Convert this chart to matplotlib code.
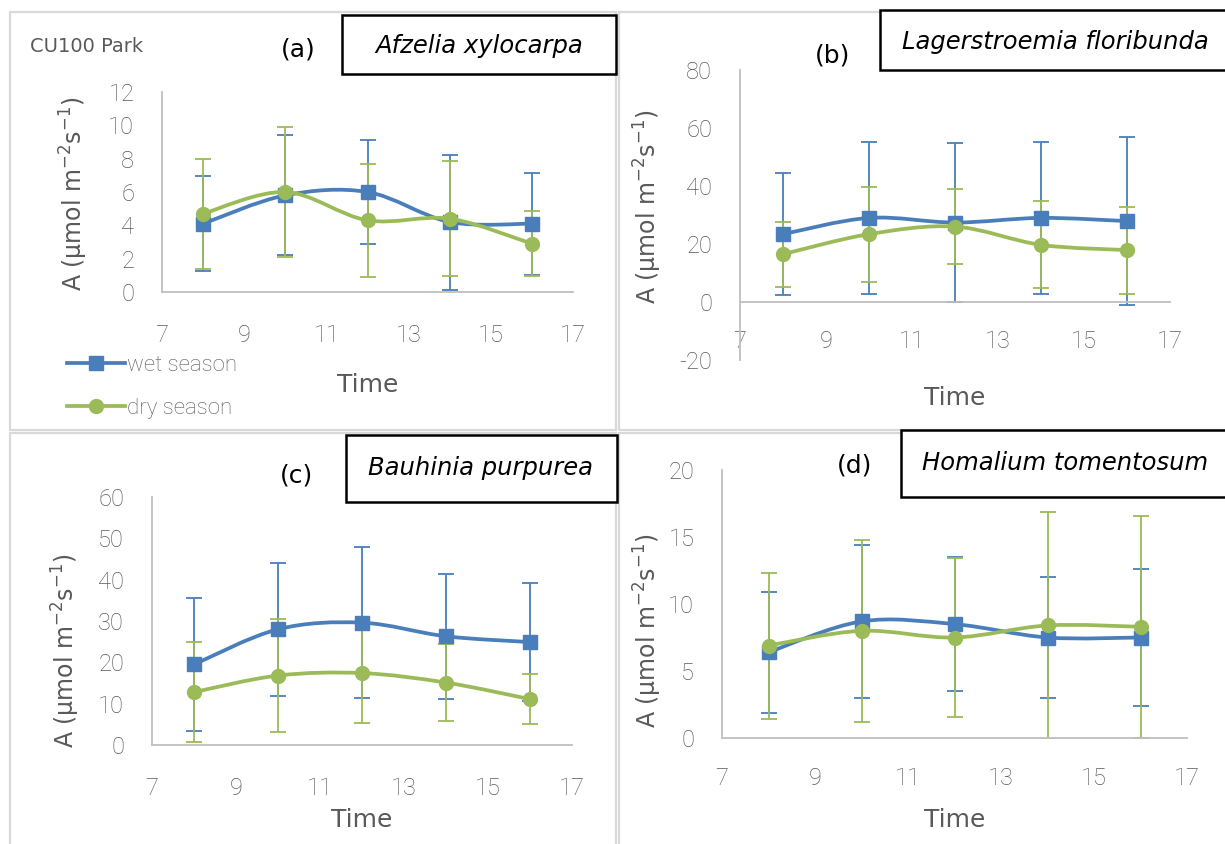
import matplotlib
matplotlib.use('Agg')
import matplotlib.pyplot as plt
from matplotlib.path import Path
from matplotlib.patches import PathPatch, Rectangle
from matplotlib.lines import Line2D

W, H = 1225, 844

# ---------------- data ----------------
time = [8, 10, 12, 14, 16]
x_ticks = [7, 9, 11, 13, 15, 17]

a_wet = [4.1, 5.8, 6.0, 4.2, 4.1]
a_wet_err = [2.85, 3.6, 3.1, 4.05, 3.05]
a_dry = [4.7, 6.0, 4.3, 4.4, 2.9]
a_dry_err = [3.3, 3.9, 3.4, 3.45, 1.95]

b_wet = [23.4, 29.0, 27.4, 29.0, 27.9]
b_wet_err = [21.0, 26.3, 27.5, 26.3, 29.0]
b_dry = [16.5, 23.4, 26.0, 19.7, 17.9]
b_dry_err = [11.2, 16.4, 12.8, 15.0, 15.0]

c_wet = [19.5, 28.0, 29.6, 26.3, 24.9]
c_wet_err = [16.0, 16.1, 18.2, 15.1, 14.3]
c_dry = [12.8, 16.8, 17.4, 15.1, 11.1]
c_dry_err = [12.0, 13.6, 12.0, 9.4, 6.0]

d_wet = [6.4, 8.7, 8.5, 7.5, 7.5]
d_wet_err = [4.5, 5.7, 5.0, 4.5, 5.1]
d_dry = [6.9, 8.0, 7.5, 8.4, 8.3]
d_dry_err = [5.45, 6.8, 5.9, 8.45, 8.3]

panel_tags = ['(a)', '(b)', '(c)', '(d)']
species = ['Afzelia xylocarpa', 'Lagerstroemia floribunda',
           'Bauhinia purpurea', 'Homalium tomentosum']
y_ticks_list = [[0, 2, 4, 6, 8, 10, 12],
                [-20, 0, 20, 40, 60, 80],
                [0, 10, 20, 30, 40, 50, 60],
                [0, 5, 10, 15, 20]]
series_names = ['wet season', 'dry season']
site_label = 'CU100 Park'

BLUE = '#4A7EBB'
GREEN = '#9BBB59'
TICKC = '#595959'
AXC = '#BFBFBF'

NUMFONT = ['Roboto', 'Open Sans', 'DejaVu Sans']
LBLFONT = ['DejaVu Sans']

fig = plt.figure(figsize=(W / 100, H / 100), dpi=100)
fig.patch.set_facecolor('white')


def fig_rect(x0, y0, x1, y1):
    """pixel box (top-left origin) -> figure fraction [l, b, w, h]"""
    return [x0 / W, 1 - y1 / H, (x1 - x0) / W, (y1 - y0) / H]


def smooth_path(xs, ys):
    pts = list(zip(xs, ys))
    n = len(pts)
    verts = [pts[0]]
    codes = [Path.MOVETO]
    for i in range(n - 1):
        p0 = pts[i - 1] if i > 0 else pts[i]
        p1 = pts[i]
        p2 = pts[i + 1]
        p3 = pts[i + 2] if i + 2 < n else pts[i + 1]
        c1 = (p1[0] + (p2[0] - p0[0]) / 6, p1[1] + (p2[1] - p0[1]) / 6)
        c2 = (p2[0] - (p3[0] - p1[0]) / 6, p2[1] - (p3[1] - p1[1]) / 6)
        verts += [c1, c2, p2]
        codes += [Path.CURVE4] * 3
    return Path(verts, codes)


# panel borders
for (x0, y0, x1, y1) in [(10, 12, 616, 430), (619, 12, 1240, 430),
                         (10, 433, 616, 860), (619, 433, 1240, 860)]:
    r = fig_rect(x0, y0, x1, y1)
    fig.add_artist(Rectangle((r[0], r[1]), r[2], r[3], transform=fig.transFigure,
                             fill=False, ec='#D9D9D9', lw=1.6, zorder=-5))

data = [(a_wet, a_wet_err, a_dry, a_dry_err),
        (b_wet, b_wet_err, b_dry, b_dry_err),
        (c_wet, c_wet_err, c_dry, c_dry_err),
        (d_wet, d_wet_err, d_dry, d_dry_err)]

# layout (pixels)
ax_boxes = [(162, 92, 573, 292), (740, 70, 1170, 360),
            (152, 497, 572, 745), (722, 470, 1187, 738)]
xpads = [23, 20, 23, 21]
ylab_coords = [(-0.215, 0.49), (-0.214, 0.53), (-0.205, 0.38), (-0.159, 0.40)]
time_coords = [(0.5, -0.465), (0.5, -0.131), (0.5, -0.302), (0.5, -0.306)]
tag_pos = [(298, 50), (833, 55), (297, 475), (855, 465)]
title_boxes = [(342, 15, 616, 74), (880, 10, 1240, 70),
               (346, 435, 617, 502), (901, 430, 1240, 497)]
title_centers = [(479, 46), (1055, 42), (481, 468), (1065, 463)]

axes = []
for k in range(4):
    x0, y0, x1, y1 = ax_boxes[k]
    ax = fig.add_axes(fig_rect(x0, y0, x1, y1))
    axes.append(ax)
    wet, wet_err, dry, dry_err = data[k]
    yt = y_ticks_list[k]

    for s in ['top', 'right']:
        ax.spines[s].set_visible(False)
    for s in ['left', 'bottom']:
        ax.spines[s].set_color(AXC)
        ax.spines[s].set_linewidth(1.3)
    if yt[0] < 0:
        ax.spines['bottom'].set_position(('data', 0))

    ax.errorbar(time, wet, yerr=wet_err, fmt='none', ecolor=BLUE, elinewidth=1.3,
                capsize=5.5, capthick=1.3, zorder=2)
    ax.errorbar(time, dry, yerr=dry_err, fmt='none', ecolor=GREEN, elinewidth=1.3,
                capsize=5.5, capthick=1.3, zorder=2)
    ax.add_patch(PathPatch(smooth_path(time, wet), fill=False, ec=BLUE, lw=2.7,
                           capstyle='round', joinstyle='round', zorder=3))
    ax.plot(time, wet, ls='none', marker='s', ms=9.5, color=BLUE, zorder=4)
    ax.add_patch(PathPatch(smooth_path(time, dry), fill=False, ec=GREEN, lw=2.7,
                           capstyle='round', joinstyle='round', zorder=5))
    ax.plot(time, dry, ls='none', marker='o', ms=10, color=GREEN, zorder=6)

    ax.set_xlim(7, 17)
    ax.set_ylim(yt[0], yt[-1])
    ax.set_xticks(x_ticks)
    ax.set_yticks(yt)
    ax.set_xticklabels([str(v) for v in x_ticks], family=NUMFONT, fontsize=17,
                       color=TICKC, fontweight='light')
    ax.set_yticklabels([str(v) for v in yt], family=NUMFONT, fontsize=17,
                       color=TICKC, fontweight='light')
    ax.tick_params(axis='both', length=0)
    ax.tick_params(axis='y', pad=20)
    ax.tick_params(axis='x', pad=xpads[k])
    ax.patch.set_alpha(0)

    ax.set_ylabel(r'A (μmol m$^{-2}$s$^{-1}$)', family=LBLFONT, fontsize=17, color=TICKC)
    ax.yaxis.set_label_coords(*ylab_coords[k])
    ax.yaxis.label.set_va('center')
    ax.set_xlabel('Time', family=LBLFONT, fontsize=18, color=TICKC)
    ax.xaxis.set_label_coords(*time_coords[k])
    ax.xaxis.label.set_va('center')

    # tag
    tx, ty = tag_pos[k]
    fig.text(tx / W, 1 - ty / H, panel_tags[k], family=LBLFONT, fontsize=18,
             ha='center', va='center', color='black')
    # species box
    bx0, by0, bx1, by1 = title_boxes[k]
    r = fig_rect(bx0, by0, bx1, by1)
    fig.add_artist(Rectangle((r[0], r[1]), r[2], r[3], transform=fig.transFigure,
                             fc='white', ec='black', lw=1.8, zorder=10))
    cx, cy = title_centers[k]
    fig.text(cx / W, 1 - cy / H, species[k], family=LBLFONT, style='italic',
             fontsize=17.5, ha='center', va='center', color='black', zorder=11)

fig.text(30 / W, 1 - 47 / H, site_label, family=LBLFONT, fontsize=14,
         ha='left', va='center', color=TICKC)

handles = [Line2D([], [], color=BLUE, lw=2.7, marker='s', ms=9.5),
           Line2D([], [], color=GREEN, lw=2.7, marker='o', ms=10)]
leg = axes[0].legend(handles, series_names, loc='center left',
                     bbox_to_anchor=(56 / W, 1 - 387 / H), bbox_transform=fig.transFigure,
                     frameon=False, handlelength=2.6, handletextpad=0.1,
                     labelspacing=1.0, borderpad=0,
                     prop={'family': NUMFONT, 'size': 16, 'weight': 'light'})
for t in leg.get_texts():
    t.set_color(TICKC)

fig.savefig('out.png', dpi=100, facecolor='white')
